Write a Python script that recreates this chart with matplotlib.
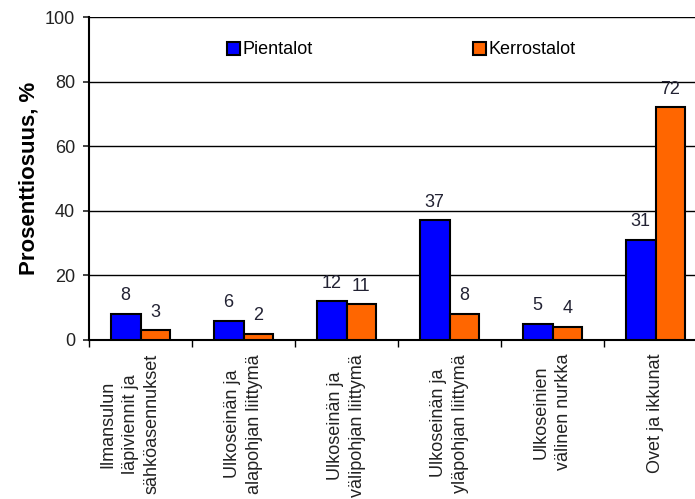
import matplotlib
matplotlib.use("Agg")
import matplotlib.pyplot as plt
import numpy as np
from matplotlib.patches import Patch

plt.rcParams['font.family'] = ['Liberation Sans', 'DejaVu Sans']

categories = ["Ilmansulun\nläpiviennit ja\nsähköasennukset",
              "Ulkoseinän ja\nalapohjan liittymä",
              "Ulkoseinän ja\nvälipohjan liittymä",
              "Ulkoseinän ja\nyläpohjan liittymä",
              "Ulkoseinien\nvälinen nurkka",
              "Ovet ja ikkunat"]
pientalot = [8, 6, 12, 37, 5, 31]
kerrostalot = [3, 2, 11, 8, 4, 72]
yticks = [0, 20, 40, 60, 80, 100]

fig = plt.figure(figsize=(6.95, 4.99), dpi=100)
ax = fig.add_axes([89/695, 1-340/499, (707-89)/695, (340-17)/499])

x = np.arange(len(categories))
w = 0.29
b1 = ax.bar(x - w/2, pientalot, w, color="#0000FF", edgecolor="black", linewidth=1.5, label="Pientalot", zorder=3)
b2 = ax.bar(x + w/2, kerrostalot, w, color="#FF6600", edgecolor="black", linewidth=1.5, label="Kerrostalot", zorder=3)

for bars, vals in ((b1, pientalot), (b2, kerrostalot)):
    for r, v in zip(bars, vals):
        ax.annotate(str(v), (r.get_x() + r.get_width()/2, r.get_height()),
                    xytext=(0, 7), textcoords="offset points",
                    ha="center", va="bottom", fontsize=13, color="#222233")

ax.set_xlim(-0.5, len(categories) - 0.5)
ax.set_ylim(0, 100)
ax.set_yticks(yticks)
ax.tick_params(axis='y', labelsize=13, direction='out', length=4, width=1.2, colors="#222222", pad=6)
ax.set_xticks(np.arange(len(categories) + 1) - 0.5)
ax.set_xticklabels([])
ax.tick_params(axis='x', direction='out', length=5, width=1.0)
ax.grid(axis='y', color='black', linewidth=1.0, zorder=0)
for s in ('top', 'right'):
    ax.spines[s].set_visible(False)
ax.spines['left'].set_linewidth(1.5)
ax.spines['bottom'].set_linewidth(1.5)

for i, c in enumerate(categories):
    xs = i - 0.1 if c.count("\n") == 2 else i
    ax.text(xs, -4.3, c, rotation=90, ha='center', va='top', fontsize=13,
            color="#222222", linespacing=1.38, multialignment='center',
            transform=ax.transData, clip_on=False)

ax.set_ylabel("Prosenttiosuus, %", fontsize=16, fontweight='bold', labelpad=4)

handles = [Patch(facecolor="#0000FF", edgecolor="black", linewidth=1.5),
           Patch(facecolor="#FF6600", edgecolor="black", linewidth=1.5)]
ax.legend(handles, ["Pientalot", "Kerrostalot"], ncol=2, frameon=False,
          loc='center left', bbox_to_anchor=((227-89)/(707-89), (340-50)/(340-17)),
          fontsize=13, handlelength=0.7, handleheight=0.7, handletextpad=0.15,
          columnspacing=8.9, borderaxespad=0, borderpad=0)

fig.savefig("out.png", dpi=100)
